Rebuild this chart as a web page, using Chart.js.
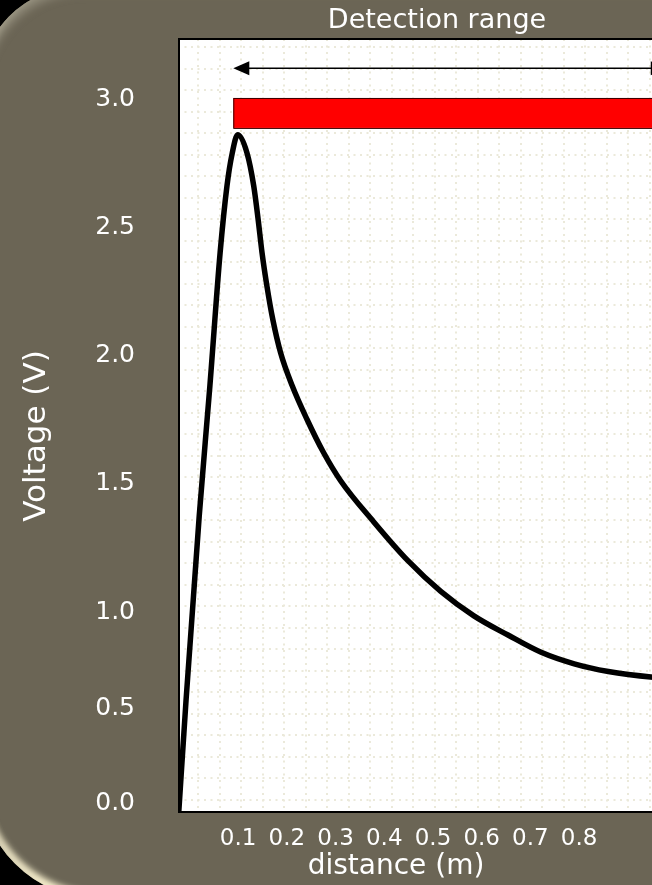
<!DOCTYPE html>
<html>
<head>
<meta charset="utf-8">
<script src="https://cdn.jsdelivr.net/npm/chart.js@4.4.1/dist/chart.umd.min.js"></script>
<style>
html, body { margin: 0; padding: 0; width: 652px; height: 885px; overflow: hidden; background: #000; }
#panel {
    position: absolute; left: -20px; top: -13px; width: 740px; height: 912px;
    background: #6b6555;
    border-radius: 100px 0 0 120px;
    box-shadow: inset 4px 6px 9px rgba(150, 145, 128, 0.8), inset 2px -5px 6px 1px rgba(255, 247, 212, 1);
}
#container { position: absolute; left: 0; top: 0; width: 700px; height: 885px; }
</style>
</head>
<body>
<div id="panel"></div>
<div id="container"><canvas id="canvas"></canvas></div>
<script>
// distance (m) and output voltage (V)
var distance = [-0.022, -0.007, 0.020, 0.042, 0.063, 0.077, 0.088, 0.099, 0.118, 0.132, 0.141, 0.149,
                0.159, 0.171, 0.187, 0.211, 0.241, 0.275, 0.310, 0.378, 0.448, 0.516, 0.584, 0.654,
                0.722, 0.790, 0.860, 0.952, 1.040];
var voltage = [-0.05, 0.54, 1.37, 1.88, 2.40, 2.66, 2.79, 2.86, 2.79, 2.66, 2.53, 2.40,
               2.27, 2.14, 2.01, 1.88, 1.75, 1.62, 1.51, 1.35, 1.20, 1.08, 0.98, 0.88,
               0.79, 0.73, 0.69, 0.66, 0.645];
var xTicks = [0.1, 0.2, 0.3, 0.4, 0.5, 0.6, 0.7, 0.8];
var yTicks = [0.0, 0.5, 1.0, 1.5, 2.0, 2.5, 3.0];
var detectionRange = [0.09, 0.98];   // arrow + red bar
var arrowLevel = 3.12;
var barLevels = [2.887, 3.004];

// the voltage labels of the original are not evenly spaced,
// so the y axis maps volts piecewise (value -> height units of the plot)
var Y_KNOTS = [[-0.047, 0], [0, 9], [0.5, 104], [1.0, 200], [1.5, 329],
               [2.0, 457], [2.5, 585], [3.0, 713], [3.234, 773]];
var Y_SPAN = 773;

class PiecewiseScale extends Chart.LinearScale {
    toUnit(v) {
        var k = Y_KNOTS, i = 1;
        while (i < k.length - 1 && v > k[i][0]) i++;
        var a = k[i - 1], b = k[i];
        return a[1] + (v - a[0]) * (b[1] - a[1]) / (b[0] - a[0]);
    }
    fromUnit(u) {
        var k = Y_KNOTS, i = 1;
        while (i < k.length - 1 && u > k[i][1]) i++;
        var a = k[i - 1], b = k[i];
        return a[0] + (u - a[1]) * (b[0] - a[0]) / (b[1] - a[1]);
    }
    getPixelForValue(v) {
        return this.getPixelForDecimal(this.toUnit(v) / Y_SPAN);
    }
    getValueForPixel(p) {
        return this.fromUnit(this.getDecimalForPixel(p) * Y_SPAN);
    }
}
PiecewiseScale.id = 'piecewise';
PiecewiseScale.defaults = Chart.LinearScale.defaults;
Chart.register(PiecewiseScale);

var FONT = 'DejaVu Sans';

var decorations = {
    id: 'decorations',
    beforeDraw: function(chart) {
        var ctx = chart.ctx, a = chart.chartArea;
        ctx.save();
        ctx.fillStyle = '#ffffff';
        ctx.fillRect(a.left, a.top, a.right - a.left, a.bottom - a.top);
        ctx.restore();
    },
    afterDatasetsDraw: function(chart) {
        var ctx = chart.ctx, x = chart.scales.x, y = chart.scales.y;
        var x0 = x.getPixelForValue(detectionRange[0]);
        var x1 = x.getPixelForValue(detectionRange[1]);
        ctx.save();
        // red bar
        var yt = y.getPixelForValue(barLevels[1]), yb = y.getPixelForValue(barLevels[0]);
        ctx.fillStyle = '#ff0000';
        ctx.strokeStyle = '#3a0000';
        ctx.lineWidth = 1;
        ctx.fillRect(x0, yt, x1 - x0, yb - yt);
        ctx.strokeRect(x0 + 0.5, yt + 0.5, x1 - x0, yb - yt);
        // double arrow
        var ya = y.getPixelForValue(arrowLevel);
        ctx.strokeStyle = '#000';
        ctx.fillStyle = '#000';
        ctx.lineWidth = 1.6;
        ctx.beginPath();
        ctx.moveTo(x0 + 10, ya);
        ctx.lineTo(x1 - 10, ya);
        ctx.stroke();
        ctx.beginPath();
        ctx.moveTo(x0, ya); ctx.lineTo(x0 + 16, ya - 7); ctx.lineTo(x0 + 16, ya + 7); ctx.closePath();
        ctx.fill();
        ctx.beginPath();
        ctx.moveTo(x1, ya); ctx.lineTo(x1 - 16, ya - 7); ctx.lineTo(x1 - 16, ya + 7); ctx.closePath();
        ctx.fill();
        ctx.restore();
    },
    afterDraw: function(chart) {
        var ctx = chart.ctx, a = chart.chartArea;
        ctx.save();
        ctx.strokeStyle = '#000';
        ctx.lineWidth = 2;
        ctx.strokeRect(a.left + 1, a.top, a.right - a.left, a.bottom - a.top);
        ctx.fillStyle = '#ffffff';
        ctx.textAlign = 'center';
        ctx.textBaseline = 'middle';
        ctx.font = '27px "' + FONT + '"';
        ctx.fillText('Detection range', (a.left + a.right) / 2, 21);
        ctx.font = '28px "' + FONT + '"';
        ctx.fillText('distance (m)', 396, 867);
        ctx.font = '31px "' + FONT + '"';
        ctx.translate(37, 436);
        ctx.rotate(-Math.PI / 2);
        ctx.fillText('Voltage (V)', 0, 0);
        ctx.restore();
    }
};

function intTicks(s) {
    var t = [];
    for (var i = Math.ceil(s.min); i <= Math.floor(s.max); i++) t.push({value: i});
    s.ticks = t;
}

var gridStyle = {color: '#ebe9da', lineWidth: 2, drawTicks: false};
var gridBorder = {display: false, dash: [2, 4.5]};

var config = {
    type: 'line',
    data: {
        datasets: [{
            data: distance.map(function(d, i) { return {x: d, y: voltage[i]}; }),
            borderColor: '#000',
            borderWidth: 5.5,
            pointRadius: 0,
            cubicInterpolationMode: 'monotone',
            fill: false
        }]
    },
    options: {
        responsive: true,
        maintainAspectRatio: false,
        animation: false,
        layout: {padding: {left: 0, top: 39, right: 4, bottom: 0}},
        plugins: {legend: {display: false}, tooltip: {enabled: false}, title: {display: false}},
        scales: {
            x: {
                type: 'linear', position: 'bottom', min: -0.0235, max: 1.04,
                grid: {display: false, drawTicks: false}, border: {display: false},
                afterBuildTicks: function(s) { s.ticks = xTicks.map(function(v) { return {value: v}; }); },
                afterFit: function(s) { s.height = 73; s.paddingLeft = 0; s.paddingRight = 0; },
                ticks: {
                    color: '#ffffff', padding: 13, maxRotation: 0, autoSkip: false,
                    font: {family: FONT, size: 23},
                    callback: function(v) { return v.toFixed(1); }
                }
            },
            y: {
                type: 'piecewise', position: 'left', min: -0.047, max: 3.234,
                grid: {display: false, drawTicks: false}, border: {display: false},
                afterBuildTicks: function(s) { s.ticks = yTicks.map(function(v) { return {value: v}; }); },
                afterFit: function(s) { s.width = 178; s.paddingTop = 0; s.paddingBottom = 0; },
                ticks: {
                    color: '#ffffff', padding: 43, autoSkip: false,
                    font: {family: FONT, size: 25},
                    callback: function(v) { return v.toFixed(1); }
                }
            },
            gx: {
                type: 'linear', axis: 'x', position: 'top', min: -0.94, max: 23.15,
                grid: gridStyle, border: gridBorder, ticks: {display: false},
                afterBuildTicks: intTicks,
                afterFit: function(s) { s.height = 0; s.paddingLeft = 0; s.paddingRight = 0; }
            },
            gy: {
                type: 'linear', axis: 'y', position: 'right', reverse: true, min: -0.395, max: 35.56,
                grid: gridStyle, border: gridBorder, ticks: {display: false},
                afterBuildTicks: intTicks,
                afterFit: function(s) { s.width = 0; s.paddingTop = 0; s.paddingBottom = 0; }
            }
        }
    },
    plugins: [decorations]
};

var context = document.getElementById('canvas').getContext('2d');
window.myLine = new Chart(context, config);
</script>
</body>
</html>
